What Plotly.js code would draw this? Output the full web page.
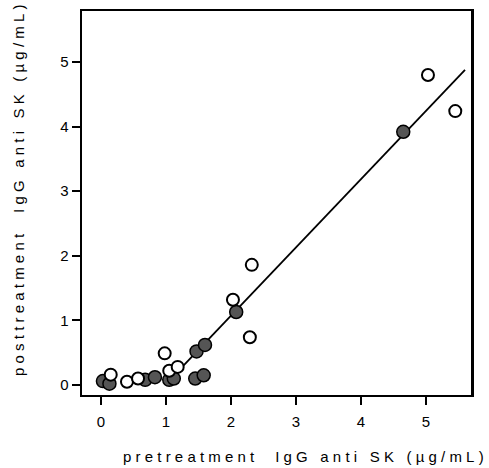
<!DOCTYPE html>
<html>
<head>
<meta charset="utf-8">
<script src="https://cdn.plot.ly/plotly-3.0.1.min.js"></script>
<style>
  html, body { margin: 0; padding: 0; background: #fff; }
  #chart { width: 489px; height: 468px; }
  .annotation-text { letter-spacing: 4.2px; }
</style>
</head>
<body>
<div id="chart"></div>
<script>
// Open circles (pre, post)
const openX = [0.15, 0.40, 0.57, 0.98, 1.05, 1.18, 2.03, 2.29, 2.32, 5.03, 5.45];
const openY = [0.16, 0.05, 0.10, 0.49, 0.22, 0.28, 1.32, 0.74, 1.86, 4.80, 4.24];
// Filled circles (pre, post)
const filledX = [0.03, 0.13, 0.68, 0.83, 1.05, 1.12, 1.45, 1.58, 1.47, 1.60, 2.08, 4.65];
const filledY = [0.06, 0.02, 0.08, 0.12, 0.08, 0.10, 0.10, 0.15, 0.52, 0.62, 1.13, 3.92];
// Regression line end points
const fitX = [1.25, 5.60];
const fitY = [0.28, 4.88];

const xTicks = [0, 1, 2, 3, 4, 5];
const yTicks = [0, 1, 2, 3, 4, 5];
const xTitle = 'pretreatment  IgG anti SK (µg/mL)';
const yTitle = 'posttreatment  IgG anti SK (µg/mL)';

const font = 'Liberation Sans, Arial, Helvetica, sans-serif';

const traces = [
  { x: fitX, y: fitY, mode: 'lines', type: 'scatter',
    line: { color: '#000', width: 1.8 }, hoverinfo: 'skip' },
  { x: filledX, y: filledY, mode: 'markers', type: 'scatter',
    marker: { size: 13, color: '#555', line: { color: '#000', width: 1.5 } } },
  { x: openX, y: openY, mode: 'markers', type: 'scatter',
    marker: { size: 12, color: '#fff', line: { color: '#000', width: 2 } } }
];

const layout = {
  width: 489, height: 468,
  margin: { l: 82, r: 18, t: 11, b: 73 },
  paper_bgcolor: '#fff', plot_bgcolor: '#fff',
  showlegend: false,
  font: { family: font, size: 14, color: '#000' },
  xaxis: {
    range: [-0.292, 5.692], tickvals: xTicks, ticktext: xTicks.map(String),
    showgrid: false, zeroline: false, showline: true, mirror: true,
    linecolor: '#000', linewidth: 2, ticks: 'outside', ticklen: 8,
    tickwidth: 2, tickcolor: '#000', ticklabelstandoff: 4,
    tickfont: { family: font, size: 15 }
  },
  yaxis: {
    range: [-0.155, 5.79], tickvals: yTicks, ticktext: yTicks.map(String),
    showgrid: false, zeroline: false, showline: true, mirror: true,
    linecolor: '#000', linewidth: 2.5, ticks: 'outside', ticklen: 8,
    tickwidth: 2, tickcolor: '#000', tickfont: { family: font, size: 15 }
  },
  annotations: [
    { text: xTitle, xref: 'paper', yref: 'paper', x: (305 - 82) / 389, y: -(456 - 395) / 384,
      xanchor: 'center', yanchor: 'middle', showarrow: false,
      font: { family: font, size: 15, color: '#000' } },
    { text: yTitle, xref: 'paper', yref: 'paper', x: -(82 - 18) / 389, y: (395 - 188) / 384,
      xanchor: 'center', yanchor: 'middle', showarrow: false, textangle: -90,
      font: { family: font, size: 15, color: '#000' } }
  ]
};

Plotly.newPlot('chart', traces, layout, { displayModeBar: false, staticPlot: true });
</script>
</body>
</html>
